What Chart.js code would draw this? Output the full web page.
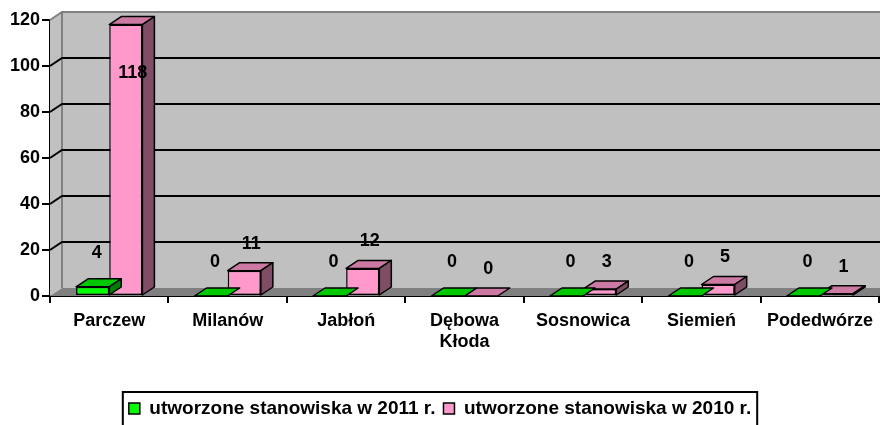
<!DOCTYPE html>
<html>
<head>
<meta charset="utf-8">
<script src="https://cdn.jsdelivr.net/npm/chart.js@4.4.1/dist/chart.umd.min.js"></script>
<style>
    html, body { margin: 0; padding: 0; background: #fff; }
    #wrap { width: 880px; height: 425px; }
</style>
</head>
<body>
<div id="wrap"><canvas id="myChart"></canvas></div>
<script>
// data
const categories = ['Parczew', 'Milanów', 'Jabłoń', ['Dębowa', 'Kłoda'], 'Sosnowica', 'Siemień', 'Podedwórze']
const jobs2011 = [4, 0, 0, 0, 0, 0, 0]
const jobs2010 = [118, 11, 12, 0, 3, 5, 1]
const yTicks = [0, 20, 40, 60, 80, 100, 120]
const seriesNames = ['utworzone stanowiska w 2011 r.', 'utworzone stanowiska w 2010 r.']

Chart.defaults.font.family = '"Liberation Sans", Arial, sans-serif'
Chart.defaults.color = '#000'

// depth of the fake 3d look
const DX = 12
const DY = 8
// front, top, side colours per series
const faces = [
    ['#00FF00', '#00C800', '#008000'],
    ['#FF99CC', '#CC7AA3', '#804D66']
]
const labelLift = [34, 27]
const labelShift = [4, 7]

const excel3d = {
    id: 'excel3d',
    beforeDatasetsDraw(chart) {
        const { ctx, chartArea: a, scales: { y } } = chart
        ctx.save()
        // back wall
        ctx.fillStyle = '#C0C0C0'
        ctx.fillRect(a.left + DX, a.top - DY, a.right - a.left, a.bottom - a.top)
        // side wall
        ctx.beginPath()
        ctx.moveTo(a.left, a.top)
        ctx.lineTo(a.left + DX, a.top - DY)
        ctx.lineTo(a.left + DX, a.bottom - DY)
        ctx.lineTo(a.left, a.bottom)
        ctx.closePath()
        ctx.fill()
        // floor
        ctx.fillStyle = '#808080'
        ctx.beginPath()
        ctx.moveTo(a.left, a.bottom)
        ctx.lineTo(a.left + DX, a.bottom - DY)
        ctx.lineTo(a.right + DX, a.bottom - DY)
        ctx.lineTo(a.right, a.bottom)
        ctx.closePath()
        ctx.fill()
        // wall edges
        ctx.strokeStyle = '#808080'
        ctx.lineWidth = 2
        ctx.beginPath()
        ctx.moveTo(a.left, a.top)
        ctx.lineTo(a.left + DX, a.top - DY)
        ctx.lineTo(a.right + DX, a.top - DY)
        ctx.moveTo(a.left + DX, a.top - DY)
        ctx.lineTo(a.left + DX, a.bottom - DY)
        ctx.stroke()
        // gridlines on side + back wall
        ctx.strokeStyle = '#000'
        ctx.lineWidth = 2
        yTicks.forEach(v => {
            if (v === yTicks[0] || v === yTicks[yTicks.length - 1]) return
            const py = y.getPixelForValue(v)
            ctx.beginPath()
            ctx.moveTo(a.left, py)
            ctx.lineTo(a.left + DX, py - DY)
            ctx.lineTo(a.right + DX, py - DY)
            ctx.stroke()
        })
        ctx.restore()
    },
    afterDatasetDraw(chart, args) {
        const { ctx } = chart
        const [, top, side] = faces[args.index]
        ctx.save()
        ctx.strokeStyle = '#000'
        ctx.lineWidth = 1.5
        ctx.lineJoin = 'round'
        args.meta.data.forEach(bar => {
            const { x, y, base, width } = bar.getProps(['x', 'y', 'base', 'width'], true)
            const l = x - width / 2
            const r = x + width / 2
            ctx.fillStyle = top
            ctx.beginPath()
            ctx.moveTo(l, y)
            ctx.lineTo(l + DX, y - DY)
            ctx.lineTo(r + DX, y - DY)
            ctx.lineTo(r, y)
            ctx.closePath()
            ctx.fill()
            ctx.stroke()
            if (base - y > 0.5) {
                ctx.fillStyle = side
                ctx.beginPath()
                ctx.moveTo(r, y)
                ctx.lineTo(r + DX, y - DY)
                ctx.lineTo(r + DX, base - DY)
                ctx.lineTo(r, base)
                ctx.closePath()
                ctx.fill()
                ctx.stroke()
            }
        })
        ctx.restore()
    },
    afterDatasetsDraw(chart) {
        const { ctx, chartArea: a } = chart
        ctx.save()
        ctx.font = 'bold 18px "Liberation Sans", Arial, sans-serif'
        ctx.fillStyle = '#000'
        ctx.textAlign = 'center'
        ctx.textBaseline = 'middle'
        chart.data.datasets.forEach((ds, i) => {
            chart.getDatasetMeta(i).data.forEach((bar, j) => {
                let ly = bar.y - labelLift[i]
                if (ly < a.top) ly = bar.y + 48
                ctx.fillText(String(ds.data[j]), bar.x + labelShift[i], ly)
            })
        })
        ctx.restore()
    },
    afterDraw(chart) {
        const { ctx } = chart
        const hb = chart.legend.legendHitBoxes
        if (!hb || !hb.length) return
        const last = hb[hb.length - 1]
        const left = hb[0].left - 6
        const right = last.left + last.width + 6
        const top = hb[0].top - 7
        ctx.save()
        ctx.strokeStyle = '#000'
        ctx.lineWidth = 2
        ctx.strokeRect(left, top, right - left, chart.height - top + 10)
        ctx.restore()
    }
}

const ctx = document.getElementById('myChart')
new Chart(ctx, {
    type: 'bar',
    data: {
        labels: categories,
        datasets: [{
            label: seriesNames[0],
            data: jobs2011,
            backgroundColor: faces[0][0],
            borderColor: '#000',
            borderWidth: 1.5,
            borderSkipped: false,
            categoryPercentage: 0.56,
            barPercentage: 1,
            clip: false
        },
        {
            label: seriesNames[1],
            data: jobs2010,
            backgroundColor: faces[1][0],
            borderColor: '#000',
            borderWidth: 1.5,
            borderSkipped: false,
            categoryPercentage: 0.56,
            barPercentage: 1,
            clip: false
        }]
    },
    options: {
        responsive: true,
        maintainAspectRatio: false,
        animation: false,
        layout: { padding: { top: 20, right: 0, left: 0, bottom: -3 } },
        plugins: {
            legend: {
                position: 'bottom',
                labels: {
                    boxWidth: 11,
                    boxHeight: 11,
                    padding: 8,
                    color: '#000',
                    font: { size: 19, weight: 'bold' }
                }
            },
            tooltip: { enabled: false }
        },
        scales: {
            x: {
                offset: true,
                grid: { offset: true, drawOnChartArea: false, tickLength: 7, color: '#000', lineWidth: 2 },
                border: { color: '#000', width: 2 },
                ticks: { color: '#000', font: { size: 18, weight: 'bold', lineHeight: 1.2 }, padding: 7, maxRotation: 0, autoSkip: false },
                afterFit: (s) => { s.height = 95 }
            },
            y: {
                min: 0,
                max: 120,
                grid: { drawOnChartArea: false, tickLength: 8, color: '#000', lineWidth: 2 },
                border: { color: '#000', width: 2 },
                ticks: { color: '#000', font: { size: 18, weight: 'bold' }, padding: 2 },
                afterBuildTicks: (s) => { s.ticks = yTicks.map(v => ({ value: v })) },
                afterFit: (s) => { s.width = 50 }
            }
        }
    },
    plugins: [excel3d]
})
</script>
</body>
</html>
